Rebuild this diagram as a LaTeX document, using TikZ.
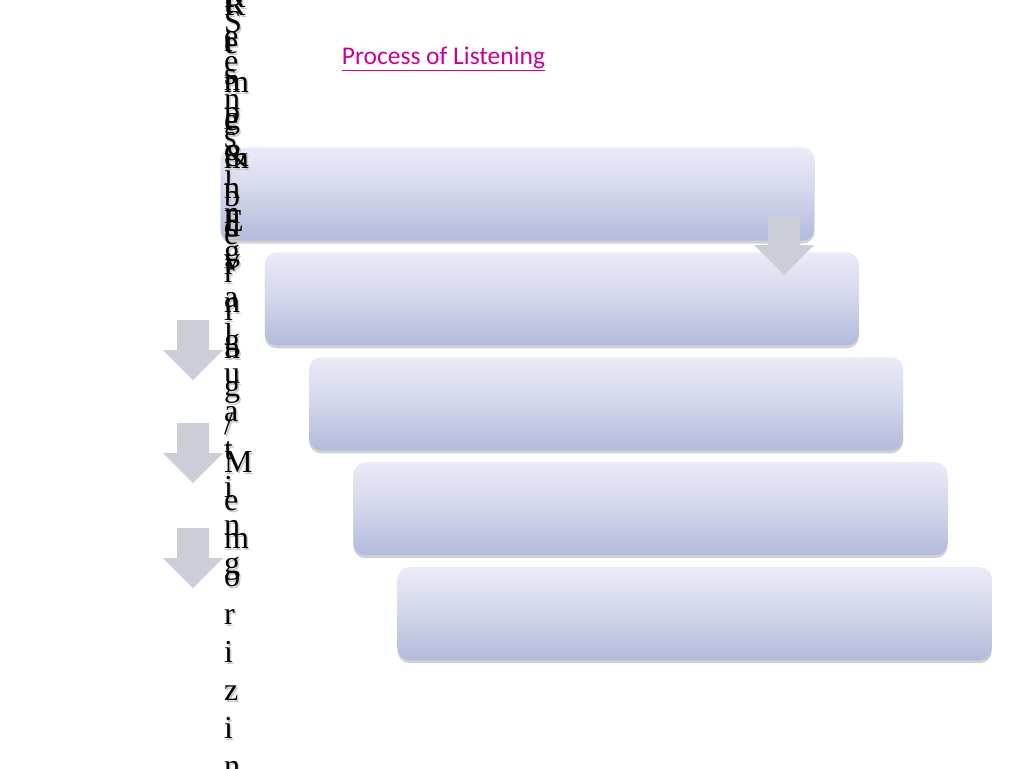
\documentclass[tikz,border=0pt]{standalone}
\usepackage{fontspec}
\setmainfont{Liberation Serif}
\newfontfamily\titlefont{Carlito}
\usetikzlibrary{shadows,positioning}
\definecolor{boxtop}{RGB}{234,235,247}
\definecolor{boxmid}{RGB}{210,214,235}
\definecolor{boxbot}{RGB}{178,186,220}
\definecolor{arrowgray}{RGB}{203,206,214}
\definecolor{titlepink}{RGB}{204,0,153}
\tikzset{
stepbox/.style={
  rectangle,
  rounded corners=12pt,
  minimum width=594pt,
  minimum height=93pt,
  top color=boxtop, bottom color=boxbot, middle color=boxmid,
  drop shadow={shadow xshift=0pt, shadow yshift=-3pt, opacity=.3, fill=black!60}
},
flowarrow/.style={fill=arrowgray, draw=none},
letter/.style={anchor=base west, inner sep=0pt, font=\fontsize{32}{38}\selectfont},
lettershadow/.style={letter, text=black!22}
}
% one word, set letter by letter down the page
\newcommand\vword[5]{%
  \foreach \ch [count=\k] in {#5}
  {
    \node[#2] (#1-\k) at ({#3},{#4+38*(\k-1)}) {\ch};
  }%
}

\begin{document}
\begin{tikzpicture}[x=1pt,y=-1pt]
\useasboundingbox (0,0) rectangle (1024,768);
% the steps
\node[stepbox] (sensebox) at (517.5,194) {};
\node[stepbox] (interpbox) at ([shift={(44.3,104.9)}]sensebox.center) {};
\node[stepbox] (evalbox) at ([shift={(44.3,104.9)}]interpbox.center) {};
\node[stepbox] (respbox) at ([shift={(44.3,104.9)}]evalbox.center) {};
\node[stepbox] (membox) at ([shift={(44.3,104.9)}]respbox.center) {};
% the arrows
\foreach \ax/\ay in {784/215, 193/320, 193/423, 193/528}
{
  \fill[flowarrow] ({\ax-16},\ay) -- ({\ax+16},\ay) -- ({\ax+16},{\ay+30}) --
    ({\ax+30},{\ay+30}) -- (\ax,{\ay+60}) -- ({\ax-30},{\ay+30}) --
    ({\ax-16},{\ay+30}) -- cycle;
}
% the words, shadows first
\vword{respshade}{lettershadow}{225.5}{10}{R,e,s,p,o,n,d,i,n,g}
\vword{memshade}{lettershadow}{225.5}{18}{R,e,m,e,m,b,e,r,i,n,g,/,M,e,m,o,r,i,z,i,n,g}
\vword{evalshade}{lettershadow}{225.5}{233}{E,v,a,l,u,a,t,i,n,g}
\vword{senseshade}{lettershadow}{225.5}{35}{S,e,n,s,i,n,g}
\vword{interpshade}{lettershadow}{225.5}{-288}{I,n,t,e,r,p,r,e,t,i,n,g,\&}
\vword{resp}{letter}{224}{8}{R,e,s,p,o,n,d,i,n,g}
\vword{mem}{letter}{224}{16}{R,e,m,e,m,b,e,r,i,n,g,/,M,e,m,o,r,i,z,i,n,g}
\vword{eval}{letter}{224}{231}{E,v,a,l,u,a,t,i,n,g}
\vword{sense}{letter}{224}{33}{S,e,n,s,i,n,g}
\vword{interp}{letter}{224}{-290}{I,n,t,e,r,p,r,e,t,i,n,g,\&}
% the title
\node[font=\titlefont\fontsize{25.5}{30}\selectfont, text=titlepink] (title) at (443.5,59) {\underline{Process of Listening}};
\end{tikzpicture}
\end{document}
